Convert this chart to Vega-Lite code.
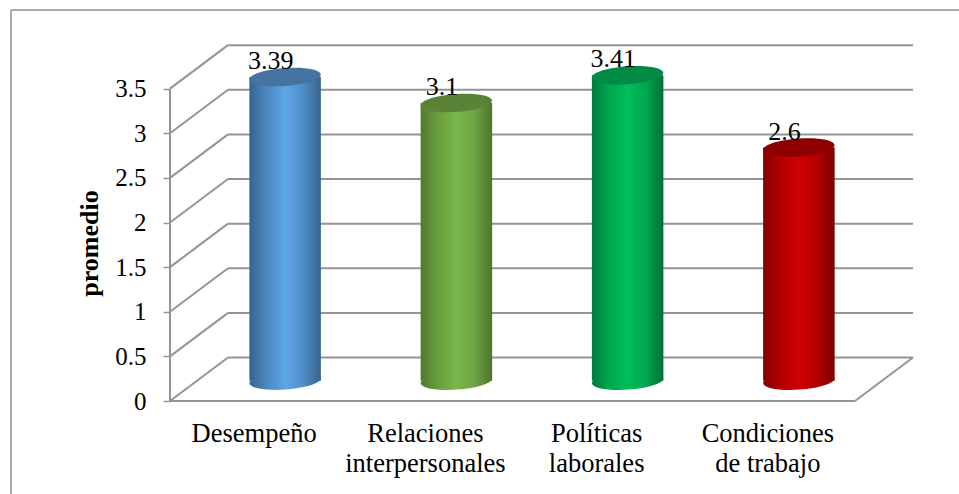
{
  "$schema": "https://vega.github.io/schema/vega-lite/v6.json",
  "width": 743,
  "height": 357,
  "padding": {"left": 170, "top": 44, "right": 46, "bottom": 93},
  "autosize": "none",
  "background": "white",
  "config": {"view": {"stroke": null}, "font": "Liberation Serif"},
  "resolve": {"scale": {"x": "independent"}, "axis": {"y": "independent"}},
  "datasets": {
    "promedios": [
      {"categoria": "Desempeño", "promedio": 3.39},
      {"categoria": "Relaciones|interpersonales", "promedio": 3.1},
      {"categoria": "Políticas|laborales", "promedio": 3.41},
      {"categoria": "Condiciones|de trabajo", "promedio": 2.6}
    ]
  },
  "layer": [
    {
      "data": {"values": [{"valor": 0}, {"valor": 0.5}, {"valor": 1}, {"valor": 1.5}, {"valor": 2}, {"valor": 2.5}, {"valor": 3}, {"valor": 3.5}]},
      "transform": [{"calculate": "datum.valor + 0.487", "as": "fondo"}],
      "resolve": {"axis": {"y": "independent"}},
      "layer": [
        {
          "mark": {"type": "rule", "stroke": "#949494", "strokeWidth": 2},
          "encoding": {
            "x": {"datum": 0.3387, "type": "quantitative", "scale": {"domain": [0, 4.3387], "nice": false, "zero": false}, "axis": null},
            "x2": {"datum": 4.3387},
            "y": {
              "field": "fondo",
              "type": "quantitative",
              "title": "promedio",
              "scale": {"domain": [0, 4], "nice": false},
              "axis": {
                "orient": "left",
                "values": [0, 0.5, 1, 1.5, 2, 2.5, 3, 3.5],
                "format": ".1~f",
                "grid": false,
                "domain": false,
                "tickColor": "#949494",
                "tickWidth": 1.5,
                "tickSize": 7,
                "labelFont": "Liberation Serif",
                "labelFontSize": 25,
                "labelColor": "#000000",
                "labelPadding": 17,
                "labelOverlap": false,
                "labelFlush": false,
                "titleFont": "Liberation Serif",
                "titleFontSize": 26,
                "titleFontWeight": "bold",
                "titleColor": "#000000",
                "titleX": -68,
                "titleY": 199
              }
            }
          }
        },
        {
          "mark": {"type": "rule", "stroke": "#949494", "strokeWidth": 2},
          "encoding": {
            "x": {"datum": 0, "type": "quantitative"},
            "x2": {"datum": 0.3387},
            "y": {"field": "valor", "type": "quantitative", "axis": null},
            "y2": {"field": "fondo"}
          }
        },
        {
          "data": {"values": [{"tramo": "marco"}]},
          "transform": [],
          "resolve": {"axis": {"y": "independent"}},
          "layer": [
            {
              "mark": {"type": "rule", "stroke": "#949494", "strokeWidth": 2},
              "encoding": {"x": {"datum": 0, "type": "quantitative"}, "y": {"datum": 0, "type": "quantitative", "axis": null}, "y2": {"datum": 3.5}}
            },
            {
              "mark": {"type": "rule", "stroke": "#949494", "strokeWidth": 2},
              "encoding": {"x": {"datum": 0, "type": "quantitative"}, "x2": {"datum": 4}, "y": {"datum": 0, "type": "quantitative", "axis": null}}
            },
            {
              "mark": {"type": "rule", "stroke": "#949494", "strokeWidth": 2},
              "encoding": {"x": {"datum": 4, "type": "quantitative"}, "x2": {"datum": 4.3387}, "y": {"datum": 0, "type": "quantitative", "axis": null}, "y2": {"datum": 0.487}}
            },
            {
              "mark": {"type": "rule", "stroke": "#8f8f8f", "strokeWidth": 1.5},
              "encoding": {"x": {"datum": -0.9285, "type": "quantitative"}, "y": {"datum": 4.381, "type": "quantitative", "axis": null}, "y2": {"datum": -1.05}}
            },
            {
              "mark": {"type": "rule", "stroke": "#8f8f8f", "strokeWidth": 1.5},
              "encoding": {"x": {"datum": -0.9285, "type": "quantitative"}, "x2": {"datum": 4.62}, "y": {"datum": 4.381, "type": "quantitative", "axis": null}}
            }
          ]
        }
      ]
    },
    {
      "data": {"name": "promedios"},
      "transform": [
        {"calculate": "datum.promedio + 0.24", "as": "cima"},
        {"calculate": "0.228", "as": "base"}
      ],
      "encoding": {
        "x": {
          "field": "categoria",
          "type": "nominal",
          "sort": null,
          "title": null,
          "scale": {"type": "band", "domain": ["Desempeño", "Relaciones|interpersonales", "Políticas|laborales", "Condiciones|de trabajo"], "range": [0, 685], "paddingInner": 0, "paddingOuter": 0},
          "axis": {
            "orient": "bottom",
            "domain": false,
            "ticks": false,
            "labelAngle": 0,
            "labelExpr": "split(datum.label, '|')",
            "labelFont": "Liberation Serif",
            "labelFontSize": 26.5,
            "labelColor": "#000000",
            "labelLineHeight": 30,
            "labelPadding": 19,
            "labelOffset": -1.5,
            "labelBaseline": "top",
            "labelLimit": 0
          }
        },
        "y": {"field": "cima", "type": "quantitative", "axis": null}
      },
      "layer": [
        {
          "transform": [{"filter": "datum.categoria === 'Desempeño'"}],
          "layer": [
            {
              "mark": {"type": "point", "filled": true, "opacity": 1, "xOffset": 29.5, "size": 5112, "angle": -4, "shape": "M-1,0A1,0.25,0,1,1,1,0A1,0.25,0,1,1,-1,0Z",
                "fill": {"gradient": "linear", "x1": 0, "y1": 0, "x2": 1, "y2": 0, "stops": [{"offset": 0, "color": "#34648f"}, {"offset": 0.22, "color": "#4a86bc"}, {"offset": 0.5, "color": "#5fa6e6"}, {"offset": 0.75, "color": "#4f8fc8"}, {"offset": 1, "color": "#36648c"}]}},
              "encoding": {"y": {"field": "base", "type": "quantitative", "axis": null}}
            },
            {
              "mark": {"type": "bar", "width": 71.5, "xOffset": 29.5,
                "fill": {"gradient": "linear", "x1": 0, "y1": 0, "x2": 1, "y2": 0, "stops": [{"offset": 0, "color": "#34648f"}, {"offset": 0.22, "color": "#4a86bc"}, {"offset": 0.5, "color": "#5fa6e6"}, {"offset": 0.75, "color": "#4f8fc8"}, {"offset": 1, "color": "#36648c"}]}},
              "encoding": {"y2": {"field": "base"}}
            }
          ]
        },
        {
          "transform": [{"filter": "datum.categoria === 'Relaciones|interpersonales'"}],
          "layer": [
            {
              "mark": {"type": "point", "filled": true, "opacity": 1, "xOffset": 29.5, "size": 5112, "angle": -4, "shape": "M-1,0A1,0.25,0,1,1,1,0A1,0.25,0,1,1,-1,0Z",
                "fill": {"gradient": "linear", "x1": 0, "y1": 0, "x2": 1, "y2": 0, "stops": [{"offset": 0, "color": "#527a30"}, {"offset": 0.22, "color": "#689c3e"}, {"offset": 0.5, "color": "#7ab84a"}, {"offset": 0.75, "color": "#6ea342"}, {"offset": 1, "color": "#4f7430"}]}},
              "encoding": {"y": {"field": "base", "type": "quantitative", "axis": null}}
            },
            {
              "mark": {"type": "bar", "width": 71.5, "xOffset": 29.5,
                "fill": {"gradient": "linear", "x1": 0, "y1": 0, "x2": 1, "y2": 0, "stops": [{"offset": 0, "color": "#527a30"}, {"offset": 0.22, "color": "#689c3e"}, {"offset": 0.5, "color": "#7ab84a"}, {"offset": 0.75, "color": "#6ea342"}, {"offset": 1, "color": "#4f7430"}]}},
              "encoding": {"y2": {"field": "base"}}
            }
          ]
        },
        {
          "transform": [{"filter": "datum.categoria === 'Políticas|laborales'"}],
          "layer": [
            {
              "mark": {"type": "point", "filled": true, "opacity": 1, "xOffset": 29.5, "size": 5112, "angle": -4, "shape": "M-1,0A1,0.25,0,1,1,1,0A1,0.25,0,1,1,-1,0Z",
                "fill": {"gradient": "linear", "x1": 0, "y1": 0, "x2": 1, "y2": 0, "stops": [{"offset": 0, "color": "#007a3c"}, {"offset": 0.22, "color": "#00a44e"}, {"offset": 0.5, "color": "#00bd5a"}, {"offset": 0.75, "color": "#00a850"}, {"offset": 1, "color": "#006f37"}]}},
              "encoding": {"y": {"field": "base", "type": "quantitative", "axis": null}}
            },
            {
              "mark": {"type": "bar", "width": 71.5, "xOffset": 29.5,
                "fill": {"gradient": "linear", "x1": 0, "y1": 0, "x2": 1, "y2": 0, "stops": [{"offset": 0, "color": "#007a3c"}, {"offset": 0.22, "color": "#00a44e"}, {"offset": 0.5, "color": "#00bd5a"}, {"offset": 0.75, "color": "#00a850"}, {"offset": 1, "color": "#006f37"}]}},
              "encoding": {"y2": {"field": "base"}}
            }
          ]
        },
        {
          "transform": [{"filter": "datum.categoria === 'Condiciones|de trabajo'"}],
          "layer": [
            {
              "mark": {"type": "point", "filled": true, "opacity": 1, "xOffset": 29.5, "size": 5112, "angle": -4, "shape": "M-1,0A1,0.25,0,1,1,1,0A1,0.25,0,1,1,-1,0Z",
                "fill": {"gradient": "linear", "x1": 0, "y1": 0, "x2": 1, "y2": 0, "stops": [{"offset": 0, "color": "#820000"}, {"offset": 0.22, "color": "#b00000"}, {"offset": 0.5, "color": "#cf0000"}, {"offset": 0.75, "color": "#b40000"}, {"offset": 1, "color": "#7c0000"}]}},
              "encoding": {"y": {"field": "base", "type": "quantitative", "axis": null}}
            },
            {
              "mark": {"type": "bar", "width": 71.5, "xOffset": 29.5,
                "fill": {"gradient": "linear", "x1": 0, "y1": 0, "x2": 1, "y2": 0, "stops": [{"offset": 0, "color": "#820000"}, {"offset": 0.22, "color": "#b00000"}, {"offset": 0.5, "color": "#cf0000"}, {"offset": 0.75, "color": "#b40000"}, {"offset": 1, "color": "#7c0000"}]}},
              "encoding": {"y2": {"field": "base"}}
            }
          ]
        },
        {
          "mark": {"type": "point", "filled": true, "opacity": 1, "xOffset": 29.5, "size": 5112, "angle": -4, "shape": "M-1,0A1,0.25,0,1,1,1,0A1,0.25,0,1,1,-1,0Z"},
          "encoding": {
            "color": {"field": "categoria", "type": "nominal", "legend": null, "scale": {
              "domain": ["Desempeño", "Relaciones|interpersonales", "Políticas|laborales", "Condiciones|de trabajo"],
              "range": ["#44749f", "#5b8337", "#008a45", "#8e0000"]
            }}
          }
        },
        {
          "mark": {"type": "text", "xOffset": 15, "dy": -8, "baseline": "alphabetic", "align": "center", "font": "Liberation Serif", "fontSize": 26, "color": "#000000"},
          "encoding": {
            "text": {"field": "promedio", "type": "quantitative"}
          }
        }
      ]
    }
  ]
}
